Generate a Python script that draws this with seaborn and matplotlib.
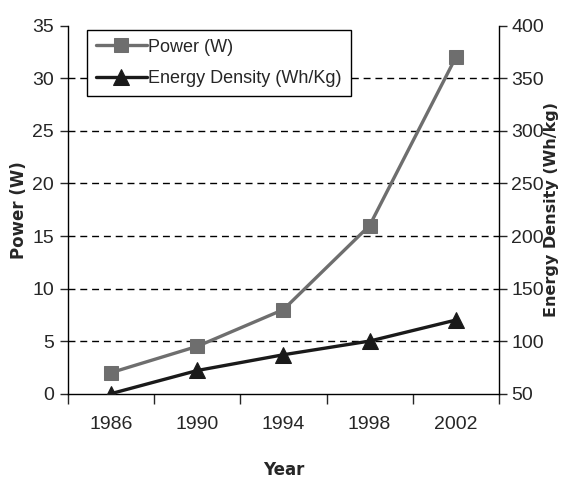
import matplotlib
matplotlib.use("Agg")
import matplotlib.pyplot as plt
import seaborn as sns
import pandas as pd
import numpy as np

years = ["1986", "1990", "1994", "1998", "2002"]
power_w = [2, 4.5, 8, 16, 32]
energy_density = [50, 72, 87, 100, 120]

sns.set_style("ticks")
plt.rcParams['font.family'] = ['Liberation Sans', 'DejaVu Sans']

df = pd.DataFrame({
    "pos": np.arange(len(years)),
    "power": power_w,
    "energy": energy_density,
})

fig = plt.figure(figsize=(5.63, 4.80), dpi=100)
ax = fig.add_axes([0.121, 0.18, 0.765, 0.766])
ax2 = ax.twinx()

for y in range(5, 35, 5):
    ax.axhline(y, color="black", linestyle=(0, (5, 3.5)), linewidth=1.0, zorder=0)

sns.lineplot(data=df, x="pos", y="power", ax=ax, color="#6e6e6e", linewidth=2.4,
             marker="s", markersize=10, markeredgecolor="#6e6e6e", label="Power (W)", legend=False)
sns.lineplot(data=df, x="pos", y="energy", ax=ax2, color="#1a1a1a", linewidth=2.4,
             marker="^", markersize=11, markeredgecolor="#1a1a1a", label="Energy Density (Wh/Kg)", legend=False)

ax.set_xlim(-0.5, len(years) - 0.5)
ax.set_ylim(0, 35)
ax2.set_ylim(50, 400)
ax.set_yticks(range(0, 36, 5))
ax2.set_yticks(range(50, 401, 50))

ax.set_xticks(np.arange(-0.5, len(years), 1.0))
ax.set_xticklabels([])
ax.set_xticks(np.arange(len(years)), minor=True)
ax.set_xticklabels(years, minor=True)
ax.tick_params(axis="x", which="major", length=7, width=1, direction="out")
ax.tick_params(axis="x", which="minor", length=0, pad=16, labelsize=14)
ax.tick_params(axis="y", length=6, width=1, labelsize=14, pad=4)
ax2.tick_params(axis="y", length=6, width=1, labelsize=14, pad=3)

for a in (ax, ax2):
    a.spines["top"].set_visible(False)
    for s in ("left", "right", "bottom"):
        a.spines[s].set_linewidth(1.0)
        a.spines[s].set_color("black")
ax.spines["right"].set_visible(False)
ax2.spines["left"].set_visible(False)
ax2.spines["bottom"].set_visible(False)

ax.set_xlabel("Year", fontsize=12, fontweight="bold", family="DejaVu Sans", labelpad=20)
ax.set_ylabel("Power (W)", fontsize=12, fontweight="bold", family="DejaVu Sans", labelpad=3)
ax2.set_ylabel("Energy Density (Wh/kg)", fontsize=11.5, fontweight="bold", family="DejaVu Sans", labelpad=0)

h1, l1 = ax.get_legend_handles_labels()
h2, l2 = ax2.get_legend_handles_labels()
leg = ax2.legend(h1 + h2, l1 + l2, loc="upper left", bbox_to_anchor=(0.044, 0.99),
                 borderaxespad=0, fontsize=13, frameon=True, fancybox=False, edgecolor="black",
                 framealpha=1, handlelength=2.8, handletextpad=0.1, borderpad=0.5,
                 labelspacing=0.8)
leg.get_frame().set_linewidth(1.0)

fig.savefig("out.png", dpi=100)
